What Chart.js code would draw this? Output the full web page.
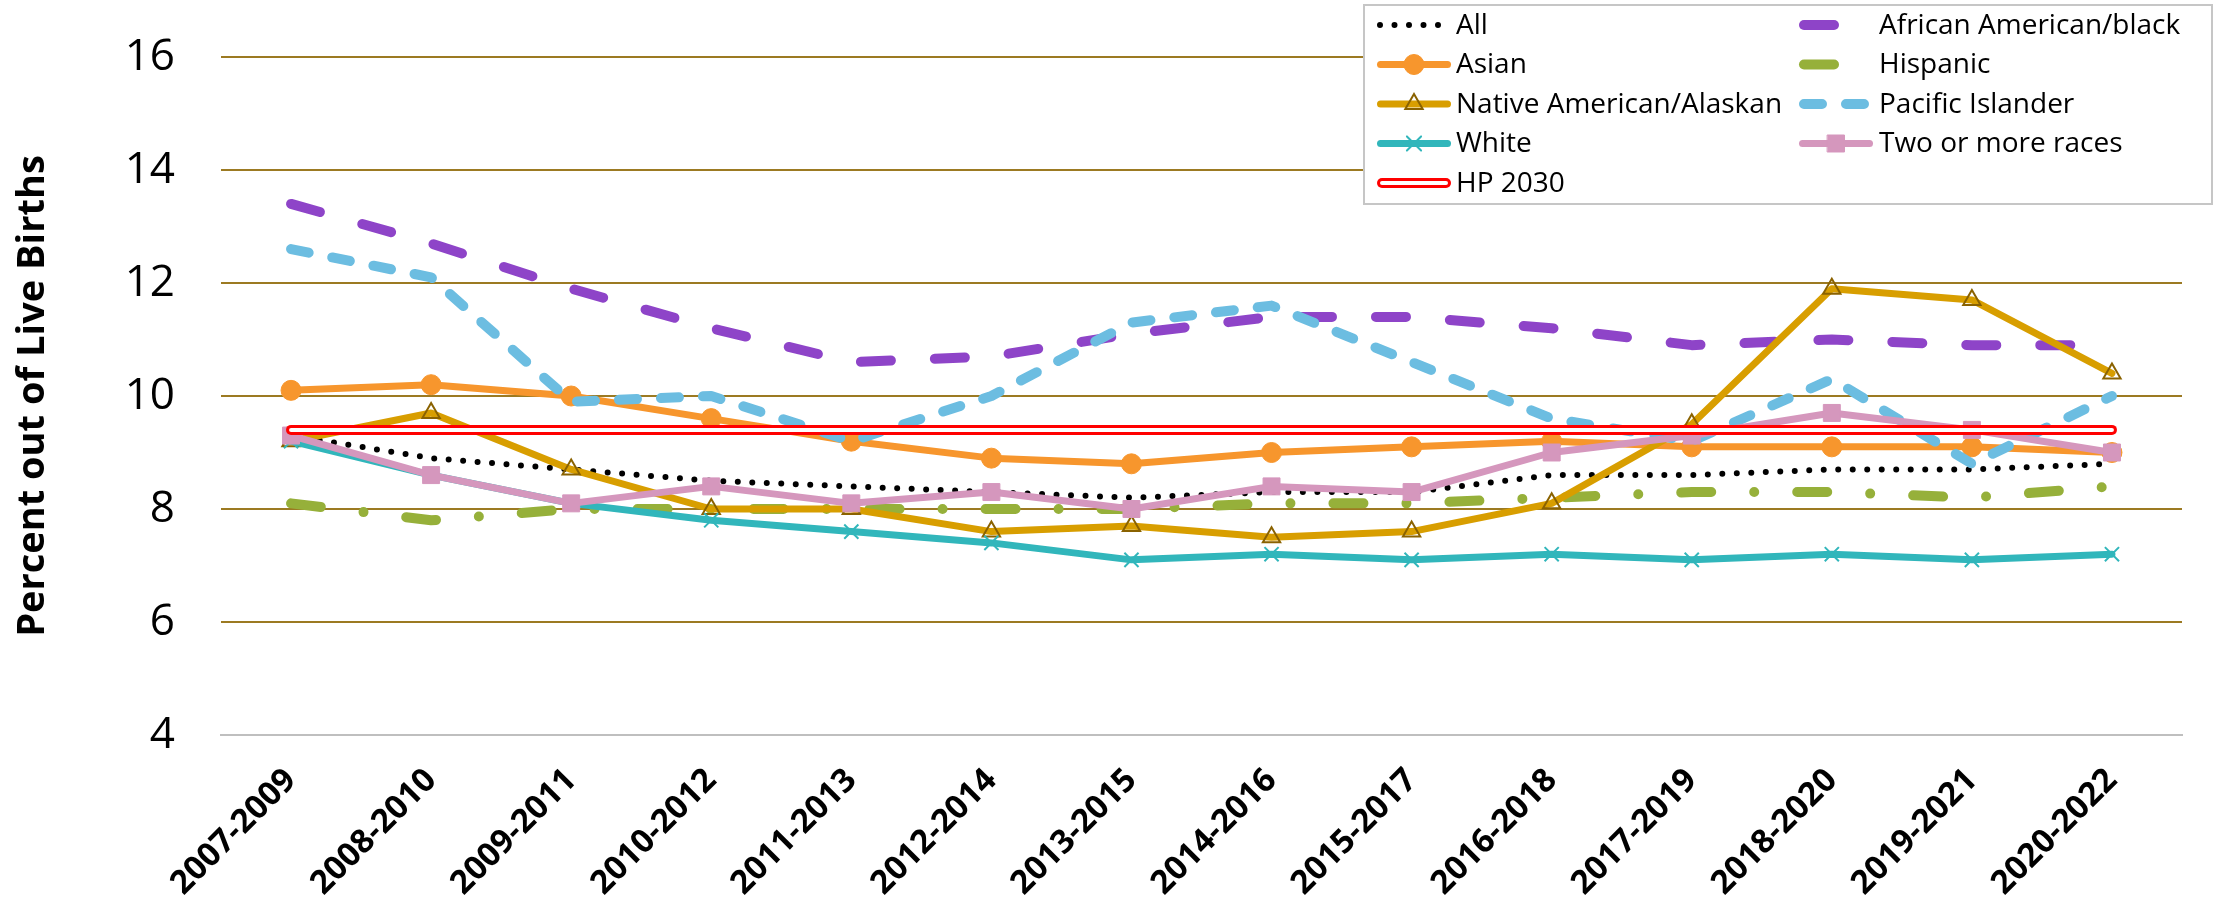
<!DOCTYPE html>
<html>
<head>
<meta charset="utf-8">
<title>Percent out of Live Births</title>
<script src="https://cdn.jsdelivr.net/npm/chart.js@4.4.1/dist/chart.umd.min.js"></script>
<style>
  html, body { margin: 0; padding: 0; background: #fff; }
  #chart { display: block; }
</style>
</head>
<body>
<canvas id="chart" width="2218" height="902"></canvas>
<script>
// 3-year periods on the x axis
const periods = ['2007-2009', '2008-2010', '2009-2011', '2010-2012', '2011-2013', '2012-2014', '2013-2015',
    '2014-2016', '2015-2017', '2016-2018', '2017-2019', '2018-2020', '2019-2021', '2020-2022'];

// percent out of live births
const allRates = [9.3, 8.9, 8.7, 8.5, 8.4, 8.3, 8.2, 8.3, 8.3, 8.6, 8.6, 8.7, 8.7, 8.8];
const africanAmerican = [13.4, 12.7, 11.9, 11.2, 10.6, 10.7, 11.1, 11.4, 11.4, 11.2, 10.9, 11.0, 10.9, 10.9];
const asian = [10.1, 10.2, 10.0, 9.6, 9.2, 8.9, 8.8, 9.0, 9.1, 9.2, 9.1, 9.1, 9.1, 9.0];
const hispanic = [8.1, 7.8, 8.0, 8.0, 8.0, 8.0, 8.0, 8.1, 8.1, 8.2, 8.3, 8.3, 8.2, 8.4];
const nativeAmerican = [9.2, 9.7, 8.7, 8.0, 8.0, 7.6, 7.7, 7.5, 7.6, 8.1, 9.5, 11.9, 11.7, 10.4];
const pacificIslander = [12.6, 12.1, 9.9, 10.0, 9.2, 10.0, 11.3, 11.6, 10.6, 9.6, 9.2, 10.3, 8.8, 10.0];
const white = [9.2, 8.6, 8.1, 7.8, 7.6, 7.4, 7.1, 7.2, 7.1, 7.2, 7.1, 7.2, 7.1, 7.2];
const twoOrMore = [9.3, 8.6, 8.1, 8.4, 8.1, 8.3, 8.0, 8.4, 8.3, 9.0, 9.3, 9.7, 9.4, 9.0];
const hp2030 = [9.4, 9.4, 9.4, 9.4, 9.4, 9.4, 9.4, 9.4, 9.4, 9.4, 9.4, 9.4, 9.4, 9.4];

const yTicks = [4, 6, 8, 10, 12, 14, 16];

Chart.defaults.font.family = "'Open Sans', 'Liberation Sans', sans-serif";
Chart.defaults.color = '#000';

const lineBase = {
    tension: 0,
    fill: false,
    borderCapStyle: 'round',
    borderJoinStyle: 'round',
    pointRadius: 0,
    pointHoverRadius: 0,
};

const datasets = [
    { ...lineBase, label: 'All', data: allRates, borderColor: '#000000', borderWidth: 6, borderDash: [0, 14.5] },
    { ...lineBase, label: 'African American/black', data: africanAmerican, borderColor: '#8E44C8', borderWidth: 10, borderDash: [30, 44] },
    { ...lineBase, label: 'Asian', data: asian, borderColor: '#F7962D', borderWidth: 7,
        pointStyle: 'circle', pointRadius: 10, pointHoverRadius: 10, pointBackgroundColor: '#F7962D', pointBorderColor: '#F7962D', pointBorderWidth: 1 },
    { ...lineBase, label: 'Hispanic', data: hispanic, borderColor: '#96B03A', borderWidth: 10, borderDash: [30, 43, 0, 43] },
    { ...lineBase, label: 'Native American/Alaskan', data: nativeAmerican, borderColor: '#D89E00', borderWidth: 7,
        pointStyle: 'triangle', pointRadius: 10, pointHoverRadius: 10, pointBackgroundColor: 'rgba(0,0,0,0)', pointBorderColor: '#8A6200', pointBorderWidth: 2 },
    { ...lineBase, label: 'Pacific Islander', data: pacificIslander, borderColor: '#6CBDE1', borderWidth: 10, borderDash: [18, 24] },
    { ...lineBase, label: 'White', data: white, borderColor: '#31B6BB', borderWidth: 7,
        pointStyle: 'crossRot', pointRadius: 10, pointHoverRadius: 10, pointBorderColor: '#31B6BB', pointBorderWidth: 2 },
    { ...lineBase, label: 'Two or more races', data: twoOrMore, borderColor: '#D597BD', borderWidth: 7,
        pointStyle: 'rect', pointRadius: 12, pointHoverRadius: 12, pointBackgroundColor: '#D597BD', pointBorderColor: '#D597BD', pointBorderWidth: 1 },
    { ...lineBase, label: 'HP 2030', data: hp2030, borderColor: '#FF0000', borderWidth: 10 },
];

// later series on top, like the spreadsheet
datasets.forEach((ds, i) => { ds.order = 20 - i; });

// white core of the HP 2030 line
datasets.push({ ...lineBase, label: 'HP 2030 core', data: hp2030, borderColor: '#FFFFFF', borderWidth: 4, order: 0 });

// boxed two-column legend, top right
const boxLegend = {
    id: 'boxLegend',
    afterDraw(chart) {
        const ctx = chart.ctx;
        const items = chart.data.datasets.filter(ds => ds.label !== 'HP 2030 core');
        const box = { x: 1364, y: 5, w: 848, h: 199 };
        const cols = [{ line: 1377, end: 1451, text: 1456 }, { line: 1799, end: 1873, text: 1879 }];

        ctx.save();
        ctx.fillStyle = '#FFFFFF';
        ctx.fillRect(box.x, box.y, box.w, box.h);
        ctx.strokeStyle = '#C6C6C6';
        ctx.lineWidth = 2;
        ctx.strokeRect(box.x, box.y, box.w, box.h);

        items.forEach((ds, i) => {
            const col = cols[i % 2];
            const y = 25 + Math.floor(i / 2) * 39.5;
            const half = ds.borderWidth / 2;

            ctx.setLineDash(ds.borderDash || []);
            ctx.lineCap = 'round';
            ctx.lineWidth = ds.borderWidth;
            ctx.strokeStyle = ds.borderColor;
            ctx.beginPath();
            ctx.moveTo(col.line + half, y);
            ctx.lineTo(col.end - half, y);
            ctx.stroke();

            if (ds.label === 'HP 2030') {
                ctx.lineWidth = 4;
                ctx.strokeStyle = '#FFFFFF';
                ctx.beginPath();
                ctx.moveTo(col.line + half, y);
                ctx.lineTo(col.end - half, y);
                ctx.stroke();
            }

            if (ds.pointRadius > 0 && Chart.helpers && Chart.helpers.drawPoint) {
                ctx.setLineDash([]);
                ctx.fillStyle = ds.pointBackgroundColor || ds.borderColor;
                ctx.strokeStyle = ds.pointBorderColor || ds.borderColor;
                ctx.lineWidth = ds.pointBorderWidth || 1;
                Chart.helpers.drawPoint(ctx, {
                    pointStyle: ds.pointStyle,
                    radius: ds.pointRadius,
                    borderWidth: ds.pointBorderWidth || 1,
                    rotation: 0
                }, (col.line + col.end) / 2, y);
            }

            ctx.setLineDash([]);
            ctx.fillStyle = '#000000';
            ctx.font = "28px 'Open Sans', 'Liberation Sans', sans-serif";
            ctx.textAlign = 'left';
            ctx.textBaseline = 'middle';
            ctx.fillText(ds.label, col.text, y + 1);
        });
        ctx.restore();
    }
};

new Chart(document.getElementById('chart').getContext('2d'), {
    type: 'line',
    data: {
        labels: periods,
        datasets: datasets
    },
    options: {
        responsive: false,
        animation: false,
        events: [],
        layout: { padding: { top: 57, right: 36, left: 0, bottom: 0 } },
        plugins: {
            legend: { display: false },
            tooltip: { enabled: false }
        },
        scales: {
            x: {
                offset: true,
                grid: { display: false, drawTicks: false },
                border: { display: true, color: '#BFBFBF', width: 2 },
                ticks: {
                    autoSkip: false,
                    maxRotation: 45,
                    minRotation: 45,
                    padding: 26,
                    color: '#000',
                    font: { size: 33, weight: 'bold' }
                },
                afterFit(scale) { scale.height = 167; }
            },
            y: {
                min: 4,
                max: 16,
                afterBuildTicks(scale) { scale.ticks = yTicks.map(v => ({ value: v })); },
                grid: {
                    color: ctx => (ctx.tick && ctx.tick.value === 4 ? '#BFBFBF' : '#9C7A22'),
                    lineWidth: 2,
                    drawTicks: false
                },
                border: { display: false },
                ticks: { padding: 46, color: '#000', font: { size: 44 } },
                title: {
                    display: true,
                    text: 'Percent out of Live Births',
                    color: '#000',
                    font: { size: 38, weight: 'bold' },
                    padding: { top: 10, bottom: 0 }
                },
                afterFit(scale) {
                    scale.width = 221;
                    // the tick padding should not push the plot area down
                    scale.paddingTop = 0;
                    scale.paddingBottom = 0;
                }
            }
        }
    },
    plugins: [boxLegend]
});
</script>
</body>
</html>
